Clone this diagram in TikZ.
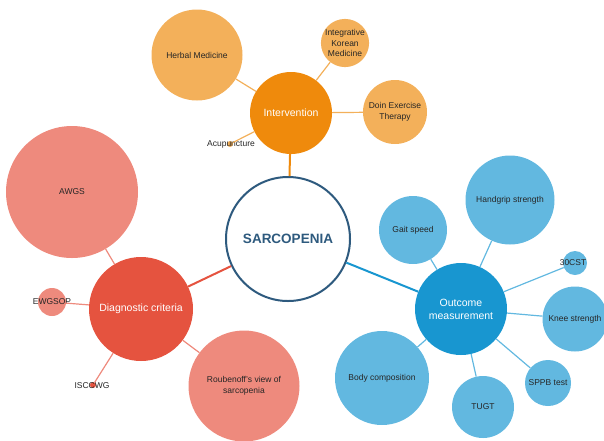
\documentclass[tikz,border=0pt]{standalone}
\usepackage{fontspec}
\setmainfont{Liberation Sans}
\definecolor{lorange}{HTML}{F3B05A}
\definecolor{dorange}{HTML}{EF8A0C}
\definecolor{lred}{HTML}{EE8A7D}
\definecolor{dred}{HTML}{E5533F}
\definecolor{lblue}{HTML}{62B8E0}
\definecolor{dblue}{HTML}{1896D0}
\definecolor{navy}{HTML}{2E5A7E}
\definecolor{leaftext}{HTML}{262626}
\begin{document}
\begin{tikzpicture}[x=1pt,y=-1pt,
  bub/.style={circle,inner sep=0pt,minimum size=#1,align=center},
  leaf/.style={font=\fontsize{8.5}{10.5}\selectfont,text=leaftext},
  hub/.style={font=\fontsize{10.5}{13}\selectfont,text=white},
  olf/.style={bub=#1,fill=lorange,leaf},
  rlf/.style={bub=#1,fill=lred,leaf},
  blf/.style={bub=#1,fill=lblue,leaf},
  oedge/.style={draw=lorange,line width=1.2pt},
  redge/.style={draw=lred,line width=1.2pt},
  bedge/.style={draw=lblue,line width=1.2pt},
  plain/.style={leaf,inner sep=0pt}
]
\useasboundingbox (0,0) rectangle (604,440);
% centre
\node[bub=124pt,draw=navy,line width=2pt,fill=white,text=navy,font=\fontsize{13.5}{16}\selectfont\bfseries] (sar) at (288,239) {SARCOPENIA};
% hubs
\node[bub=82pt,fill=dorange,hub] (int) at (291,113) {Intervention};
\node[bub=104pt,fill=dred,hub] (dia) at (141,309) {Diagnostic criteria};
\node[bub=92pt,fill=dblue,hub] (out) at (461,309) {Outcome\\measurement};
% intervention leaves
\node[olf=91pt] (herb) at (197,55) {Herbal Medicine};
\node[olf=42pt] (ikm) at (345,43) {Integrative\\Korean\\Medicine};
\node[olf=64pt] (doin) at (395,112) {Doin Exercise\\Therapy};
\node[bub=6pt,fill=lorange] (acu) at (230,144) {};
\node[plain] (acut) at (231,144.5) {Acupuncture};
% diagnostic leaves
\node[rlf=132pt] (awgs) at (72,192) {AWGS};
\node[rlf=28pt] (ewg) at (52,302) {};
\node[plain] (ewgt) at (52,301.5) {EWGSOP};
\node[bub=6pt,fill=dred] (isc) at (93,385) {};
\node[plain] (isct) at (92,385.5) {ISCCWG};
\node[rlf=111pt] (roub) at (244,386) {Roubenoff's view of\\sarcopenia};
% outcome leaves
\node[blf=68pt] (gait) at (413,230) {Gait speed};
\node[blf=89pt] (hand) at (510,200) {Handgrip strength};
\node[blf=24pt] (cst) at (575,263) {};
\node[plain] (cstt) at (573,263) {30CST};
\node[blf=65pt] (knee) at (575,319) {Knee strength};
\node[blf=46pt] (sppb) at (548,383) {SPPB test};
\node[blf=62pt] (tugt) at (483,407) {TUGT};
\node[blf=94pt] (body) at (382,378) {Body composition};
% main connectors
\draw[dorange,line width=2pt] (sar) -- (int);
\draw[dred,line width=2pt] (sar) -- (dia);
\draw[dblue,line width=2pt] (sar) -- (out);
% leaf connectors
\draw[oedge] (int) -- (herb);
\draw[oedge] (int) -- (ikm);
\draw[oedge] (int) -- (doin);
\draw[oedge] (int) -- (acu);
\draw[redge] (dia) -- (awgs);
\draw[redge] (dia) -- (ewg);
\draw[redge] (dia) -- (isc);
\draw[redge] (dia) -- (roub);
\draw[bedge] (out) -- (gait);
\draw[bedge] (out) -- (hand);
\draw[bedge] (out) -- (cst);
\draw[bedge] (out) -- (knee);
\draw[bedge] (out) -- (sppb);
\draw[bedge] (out) -- (tugt);
\draw[bedge] (out) -- (body);
\end{tikzpicture}
\end{document}
